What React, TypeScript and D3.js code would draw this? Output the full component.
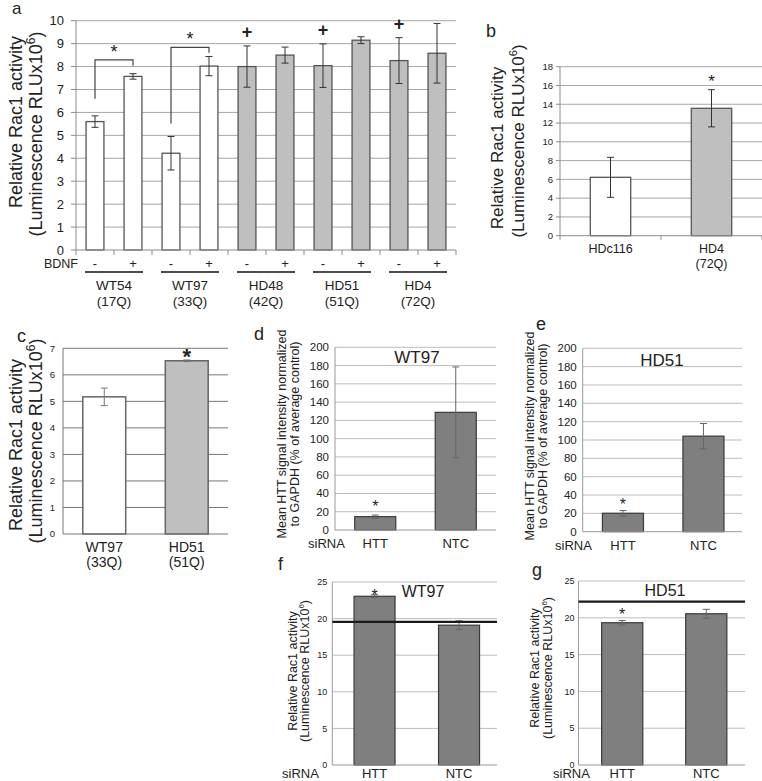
import React from "react";
import * as d3 from "d3";

const FONT = "'Liberation Sans', Arial, sans-serif";

// ---------- Panel a ----------
const aGroups = ["WT54", "WT97", "HD48", "HD51", "HD4"];
const aRepeats = ["(17Q)", "(33Q)", "(42Q)", "(51Q)", "(72Q)"];
const aBdnf = ["-", "+"];
const aMinus = [5.6, 4.22, 8.0, 8.04, 8.26];
const aMinusErr = [0.25, 0.73, 0.9, 0.95, 1.0];
const aPlus = [7.57, 8.02, 8.5, 9.15, 8.58];
const aPlusErr = [0.12, 0.42, 0.35, 0.15, 1.3];
const aTicks = [0, 1, 2, 3, 4, 5, 6, 7, 8, 9, 10];
const aBrackets = [
  { group: 0, from: 6.6, top: 8.29, to: 8.04 },
  { group: 1, from: 5.52, top: 8.84, to: 8.6 },
];
const aPlusMarks = ["HD48", "HD51", "HD4"];

// ---------- Panel b ----------
const bCats = ["HDc116", "HD4"];
const bSub = ["", "(72Q)"];
const bMeans = [6.22, 13.57];
const bErrors = [2.13, 1.98];
const bTicks = [0, 2, 4, 6, 8, 10, 12, 14, 16, 18];

// ---------- Panel c ----------
const cCats = ["WT97", "HD51"];
const cSub = ["(33Q)", "(51Q)"];
const cMeans = [5.17, 6.53];
const cErrors = [0.33, 0.03];
const cTicks = [0, 1, 2, 3, 4, 5, 6, 7];

// ---------- Panels d, e ----------
const siRNA = ["HTT", "NTC"];
const dMeans = [14.6, 128.8];
const dErrors = [1.8, 49.7];
const eMeans = [20.1, 104.2];
const eErrors = [3.0, 13.8];
const deTicks = [0, 20, 40, 60, 80, 100, 120, 140, 160, 180, 200];

// ---------- Panels f, g ----------
const fMeans = [23.05, 19.1];
const fErrors = [0.2, 0.6];
const fReference = 19.55;
const gMeans = [19.33, 20.55];
const gErrors = [0.3, 0.6];
const gReference = 22.2;
const fgTicks = [0, 5, 10, 15, 20, 25];

const WHITE = "#ffffff";
const LIGHT = "#bfbfbf";
const DARK = "#7f7f7f";

type XS = d3.ScaleBand<number>;
type YS = d3.ScaleLinear<number, number>;

type PanelProps = {
  left: number; right: number; top: number; bottom: number;
  yMax: number; ticks: number[];
  bandStart: number; bandEnd: number; barFrac: number;
  means: number[]; errors: number[]; fills: string[];
  stroke: string; strokeW: number;
  grid: string; axis: string;
  tickFont: number; tickGap: number; yTickLen: number; xTickLen: number;
  capW: number; errColor: string;
  extra?: (x: XS, y: YS) => React.ReactNode;
};

function BarPanel(p: PanelProps) {
  const y = d3.scaleLinear().domain([0, p.yMax]).range([p.bottom, p.top]);
  const x = d3.scaleBand<number>().domain(d3.range(p.means.length)).range([p.bandStart, p.bandEnd]);
  const bw = x.bandwidth() * p.barFrac;
  const bounds = d3.range(p.means.length + 1).map((i) => p.bandStart + i * x.bandwidth());
  return (
    <g>
      {p.ticks.filter((t) => t > 0).map((t) => (
        <line key={"g" + t} x1={p.left} x2={p.right} y1={y(t)} y2={y(t)} stroke={p.grid} strokeWidth={1} />
      ))}
      {p.means.map((m, i) => (
        <rect key={"b" + i} x={(x(i) as number) + (x.bandwidth() - bw) / 2} y={y(m)} width={bw}
          height={y(0) - y(m)} fill={p.fills[i]} stroke={p.stroke} strokeWidth={p.strokeW} />
      ))}
      {p.means.map((m, i) => {
        const cx = (x(i) as number) + x.bandwidth() / 2;
        const hi = y(m + p.errors[i]);
        const lo = y(m - p.errors[i]);
        return (
          <g key={"e" + i} stroke={p.errColor} strokeWidth={1}>
            <line x1={cx} x2={cx} y1={hi} y2={lo} />
            <line x1={cx - p.capW / 2} x2={cx + p.capW / 2} y1={hi} y2={hi} />
            <line x1={cx - p.capW / 2} x2={cx + p.capW / 2} y1={lo} y2={lo} />
          </g>
        );
      })}
      <line x1={p.left} x2={p.left} y1={y(p.yMax)} y2={y(0)} stroke={p.axis} strokeWidth={1} />
      <line x1={p.left} x2={p.right} y1={y(0)} y2={y(0)} stroke={p.axis} strokeWidth={1} />
      {p.yTickLen > 0 && p.ticks.map((t) => (
        <line key={"yt" + t} x1={p.left - p.yTickLen} x2={p.left} y1={y(t)} y2={y(t)} stroke={p.axis} />
      ))}
      {p.xTickLen > 0 && bounds.map((b, i) => (
        <line key={"xt" + i} x1={b} x2={b} y1={y(0)} y2={y(0) + p.xTickLen} stroke={p.axis} />
      ))}
      {p.ticks.map((t) => (
        <text key={"tl" + t} x={p.left - p.tickGap} y={y(t)} dy="0.35em" textAnchor="end"
          fontSize={p.tickFont} fill="#222">{t}</text>
      ))}
      {p.extra && p.extra(x, y)}
    </g>
  );
}

function RacTitle({ x1, x2, c1, c2, size, supSize }: { x1: number; x2: number; c1: number; c2: number; size: number; supSize: number }) {
  return (
    <g fill="#222">
      <text transform={`translate(${x1},${c1}) rotate(-90)`} textAnchor="middle" fontSize={size}>Relative Rac1 activity</text>
      <text transform={`translate(${x2},${c2}) rotate(-90)`} textAnchor="middle" fontSize={size}>
        (Luminescence RLUx10<tspan dy={-size * 0.4} fontSize={supSize}>6</tspan><tspan dy={size * 0.4}>)</tspan>
      </text>
    </g>
  );
}

function HttTitle({ x1, x2, c }: { x1: number; x2: number; c: number }) {
  return (
    <g fill="#222" fontSize={12.5}>
      <text transform={`translate(${x1},${c}) rotate(-90)`} textAnchor="middle">Mean HTT signal intensity normalized</text>
      <text transform={`translate(${x2},${c}) rotate(-90)`} textAnchor="middle">to GAPDH (% of average control)</text>
    </g>
  );
}

export default function App() {
  const aMeans = aGroups.flatMap((_, i) => [aMinus[i], aPlus[i]]);
  const aErrors = aGroups.flatMap((_, i) => [aMinusErr[i], aPlusErr[i]]);
  const aFills = aGroups.flatMap((g) => (g.startsWith("WT") ? [WHITE, WHITE] : [LIGHT, LIGHT]));

  return (
    <svg width={762} height={781} style={{ position: "absolute", left: 0, top: 0, background: "#fff" }}
      fontFamily={FONT}>
      {/* panel letters */}
      <g fontSize={18} fill="#222">
        <text x={12} y={14} fontSize={17}>a</text>
        <text x={486} y={37}>b</text>
        <text x={17} y={342}>c</text>
        <text x={254} y={340}>d</text>
        <text x={536} y={330}>e</text>
        <text x={278} y={570}>f</text>
        <text x={532} y={576}>g</text>
      </g>

      {/* ---------- a ---------- */}
      <RacTitle x1={22} x2={42} c1={122} c2={134} size={18} supSize={12} />
      <BarPanel left={76} right={456} top={20.7} bottom={250} yMax={10} ticks={aTicks}
        bandStart={76} bandEnd={456} barFrac={0.47} means={aMeans} errors={aErrors} fills={aFills}
        stroke="#555" strokeW={1.3} grid="#a6a6a6" axis="#8c8c8c" tickFont={13} tickGap={12}
        yTickLen={5} xTickLen={5} capW={7} errColor="#333"
        extra={(x, y) => {
          const bw = x.bandwidth();
          const cx = (i: number) => (x(i) as number) + bw / 2;
          return (
            <g>
              <text x={78} y={268} textAnchor="end" fontSize={12.5} fill="#222">BDNF</text>
              {aMeans.map((_, i) => (
                <text key={"bd" + i} x={cx(i)} y={268} textAnchor="middle" fontSize={13} fill="#222">
                  {aBdnf[i % 2]}
                </text>
              ))}
              {aGroups.map((g, gi) => {
                const gc = (x(gi * 2) as number) + bw;
                return (
                  <g key={g}>
                    <line x1={gc - 29} x2={gc + 29} y1={272} y2={272} stroke="#111" strokeWidth={1.5} />
                    <text x={gc} y={290} textAnchor="middle" fontSize={13.5} fill="#222">{g}</text>
                    <text x={gc} y={306} textAnchor="middle" fontSize={13.5} fill="#222">{aRepeats[gi]}</text>
                  </g>
                );
              })}
              {aBrackets.map((b, k) => {
                const l = cx(b.group * 2);
                const r = cx(b.group * 2 + 1);
                return (
                  <g key={"br" + k}>
                    <path d={`M${l},${y(b.from)}V${y(b.top)}H${r}V${y(b.to)}`} fill="none" stroke="#444" strokeWidth={1.2} />
                    <text x={(l + r) / 2} y={y(b.top) - 2} textAnchor="middle" fontSize={18} fill="#222">*</text>
                  </g>
                );
              })}
              {aPlusMarks.map((g) => {
                const gi = aGroups.indexOf(g);
                const i = gi * 2;
                return (
                  <text key={"p" + g} x={cx(i)} y={y(aMeans[i] + aErrors[i]) - 8} textAnchor="middle"
                    fontSize={18} fontWeight="bold" fill="#222">+</text>
                );
              })}
            </g>
          );
        }}
      />

      {/* ---------- b ---------- */}
      <RacTitle x1={503} x2={524} c1={148} c2={141} size={17} supSize={11} />
      <BarPanel left={560} right={762} top={66.7} bottom={235.7} yMax={18} ticks={bTicks}
        bandStart={560} bandEnd={762} barFrac={0.4} means={bMeans} errors={bErrors} fills={[WHITE, LIGHT]}
        stroke="#555" strokeW={1.3} grid="#a6a6a6" axis="#8c8c8c" tickFont={9.5} tickGap={7}
        yTickLen={4} xTickLen={4} capW={7} errColor="#333"
        extra={(x, y) => {
          const cx = (i: number) => (x(i) as number) + x.bandwidth() / 2;
          return (
            <g fill="#222" fontSize={12.5}>
              {bCats.map((c, i) => (
                <g key={c}>
                  <text x={cx(i)} y={253} textAnchor="middle">{c}</text>
                  {bSub[i] && <text x={cx(i)} y={268} textAnchor="middle">{bSub[i]}</text>}
                </g>
              ))}
              <text x={cx(1)} y={y(bMeans[1] + bErrors[1]) - 3} textAnchor="middle" fontSize={17}>*</text>
            </g>
          );
        }}
      />

      {/* ---------- c ---------- */}
      <RacTitle x1={22} x2={42} c1={445} c2={441} size={18} supSize={12} />
      <BarPanel left={63} right={228} top={348.3} bottom={534} yMax={7} ticks={cTicks}
        bandStart={63} bandEnd={228} barFrac={0.52} means={cMeans} errors={cErrors} fills={[WHITE, LIGHT]}
        stroke="#666" strokeW={1.5} grid="#777" axis="#777" tickFont={9.5} tickGap={8}
        yTickLen={0} xTickLen={0} capW={7} errColor="#777"
        extra={(x, y) => {
          const cx = (i: number) => (x(i) as number) + x.bandwidth() / 2;
          return (
            <g fill="#222" fontSize={14}>
              {cCats.map((c, i) => (
                <g key={c}>
                  <text x={cx(i)} y={552} textAnchor="middle">{c}</text>
                  <text x={cx(i)} y={567} textAnchor="middle">{cSub[i]}</text>
                </g>
              ))}
              <text x={cx(1)} y={y(cMeans[1]) + 3} textAnchor="middle" fontSize={22} fontWeight="bold">*</text>
            </g>
          );
        }}
      />

      {/* ---------- d ---------- */}
      <HttTitle x1={286} x2={299} c={434} />
      <BarPanel left={335} right={496} top={347.3} bottom={530} yMax={200} ticks={deTicks}
        bandStart={335} bandEnd={496} barFrac={0.51} means={dMeans} errors={dErrors} fills={[DARK, DARK]}
        stroke="#3a3a3a" strokeW={1.2} grid="#bdbdbd" axis="#9a9a9a" tickFont={11.5} tickGap={6}
        yTickLen={0} xTickLen={0} capW={7} errColor="#666"
        extra={(x, y) => {
          const cx = (i: number) => (x(i) as number) + x.bandwidth() / 2;
          return (
            <g fill="#222" fontSize={13}>
              <text x={308} y={548}>siRNA</text>
              {siRNA.map((s, i) => <text key={s} x={cx(i)} y={548} textAnchor="middle">{s}</text>)}
              <text x={417} y={363} textAnchor="middle" fontSize={17}>WT97</text>
              <text x={cx(0)} y={y(dMeans[0] + dErrors[0]) - 3} textAnchor="middle" fontSize={16}>*</text>
            </g>
          );
        }}
      />

      {/* ---------- e ---------- */}
      <HttTitle x1={534} x2={547} c={436} />
      <BarPanel left={582.7} right={742} top={348.3} bottom={531.7} yMax={200} ticks={deTicks}
        bandStart={582.7} bandEnd={743.7} barFrac={0.51} means={eMeans} errors={eErrors} fills={[DARK, DARK]}
        stroke="#3a3a3a" strokeW={1.2} grid="#bdbdbd" axis="#9a9a9a" tickFont={11.5} tickGap={6}
        yTickLen={0} xTickLen={0} capW={7} errColor="#666"
        extra={(x, y) => {
          const cx = (i: number) => (x(i) as number) + x.bandwidth() / 2;
          return (
            <g fill="#222" fontSize={13}>
              <text x={555} y={550}>siRNA</text>
              {siRNA.map((s, i) => <text key={s} x={cx(i)} y={550} textAnchor="middle">{s}</text>)}
              <text x={662} y={366} textAnchor="middle" fontSize={17}>HD51</text>
              <text x={cx(0)} y={y(eMeans[0] + eErrors[0]) - 1} textAnchor="middle" fontSize={16}>*</text>
            </g>
          );
        }}
      />

      {/* ---------- f ---------- */}
      <RacTitle x1={297} x2={309} c1={671} c2={671} size={12.5} supSize={8} />
      <BarPanel left={332.3} right={497} top={582} bottom={765} yMax={25} ticks={fgTicks}
        bandStart={332.3} bandEnd={501.3} barFrac={0.485} means={fMeans} errors={fErrors} fills={[DARK, DARK]}
        stroke="#3a3a3a" strokeW={1.2} grid="#bdbdbd" axis="#9a9a9a" tickFont={9} tickGap={5}
        yTickLen={0} xTickLen={0} capW={7} errColor="#666"
        extra={(x, y) => {
          const cx = (i: number) => (x(i) as number) + x.bandwidth() / 2;
          return (
            <g fill="#222" fontSize={13}>
              <line x1={332.3} x2={497} y1={y(fReference)} y2={y(fReference)} stroke="#1a1a1a" strokeWidth={2.2} />
              <text x={282} y={778}>siRNA</text>
              {siRNA.map((s, i) => <text key={s} x={cx(i)} y={778} textAnchor="middle">{s}</text>)}
              <text x={423} y={597} textAnchor="middle" fontSize={16}>WT97</text>
              <text x={cx(0)} y={y(fMeans[0] + fErrors[0]) + 6} textAnchor="middle" fontSize={16}>*</text>
            </g>
          );
        }}
      />

      {/* ---------- g ---------- */}
      <RacTitle x1={539} x2={552} c1={668} c2={668} size={12.5} supSize={8} />
      <BarPanel left={578.5} right={745} top={581} bottom={765} yMax={25} ticks={fgTicks}
        bandStart={580.2} bandEnd={748.3} barFrac={0.49} means={gMeans} errors={gErrors} fills={[DARK, DARK]}
        stroke="#3a3a3a" strokeW={1.2} grid="#bdbdbd" axis="#9a9a9a" tickFont={9} tickGap={4}
        yTickLen={0} xTickLen={0} capW={7} errColor="#666"
        extra={(x, y) => {
          const cx = (i: number) => (x(i) as number) + x.bandwidth() / 2;
          return (
            <g fill="#222" fontSize={13}>
              <line x1={578.5} x2={745} y1={y(gReference)} y2={y(gReference)} stroke="#1a1a1a" strokeWidth={2.2} />
              <text x={553} y={778}>siRNA</text>
              {siRNA.map((s, i) => <text key={s} x={cx(i)} y={778} textAnchor="middle">{s}</text>)}
              <text x={665} y={596} textAnchor="middle" fontSize={16}>HD51</text>
              <text x={cx(0)} y={y(gMeans[0] + gErrors[0]) - 1} textAnchor="middle" fontSize={16}>*</text>
            </g>
          );
        }}
      />
    </svg>
  );
}
